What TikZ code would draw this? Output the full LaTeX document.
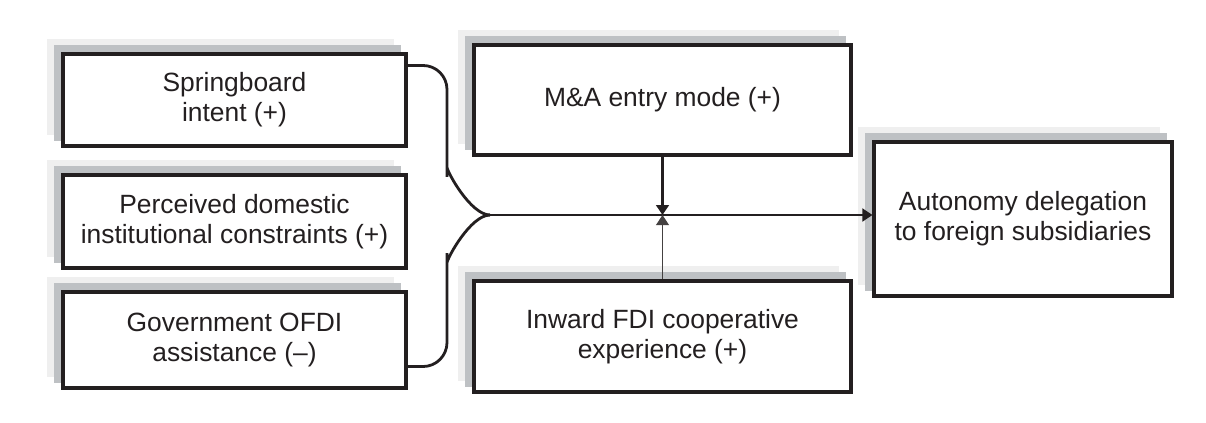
\documentclass[tikz,border=0pt]{standalone}
\usepackage{fontspec}
\setmainfont{Liberation Sans}
\usepackage{tikz}
\usetikzlibrary{arrows.meta,backgrounds,calc}
\definecolor{Ink}{HTML}{231F20}
\definecolor{ShadeDark}{HTML}{BEC1C4}
\definecolor{ShadeLight}{HTML}{EFEFEF}
\tikzset{
  factorBox/.style={rectangle,draw=Ink,line width=2.3pt,fill=white,text=Ink,
    font=\fontsize{19.8}{22.5}\selectfont,align=center,inner sep=0pt},
  link/.style={draw=Ink,line width=2.1pt},
  effectArrow/.style={link,-{Triangle[length=7.5pt,width=9.5pt]}},
  moderArrow/.style={draw=Ink!85,line width=1.3pt,-{Triangle[length=7.5pt,width=9.5pt]}}
}

\begin{document}
\begin{tikzpicture}[x=0.75pt,y=-0.75pt]
  \useasboundingbox (0,0) rectangle (1206,422);

  % Antecedents on the left
  \node[factorBox,minimum width=343*0.75pt,minimum height=92*0.75pt] (spring) at (234.5,100) {Springboard\\intent (+)};
  \node[factorBox,minimum width=343*0.75pt,minimum height=93*0.75pt] (percv) at (234.5,221.5) {Perceived domestic\\institutional constraints (+)};
  \node[factorBox,minimum width=343*0.75pt,minimum height=96*0.75pt] (govt) at (234.5,340) {Government OFDI\\assistance (--)};

  % Moderators and outcome
  \node[factorBox,minimum width=377*0.75pt,minimum height=110*0.75pt] (mna) at (662.5,100) {M\&A entry mode (+)};
  \node[factorBox,minimum width=377*0.75pt,minimum height=111*0.75pt] (inward) at (662.5,336.5) {Inward FDI cooperative\\experience (+)};
  \node[factorBox,minimum width=298*0.75pt,minimum height=154*0.75pt] (auto) at (1023,219) {Autonomy delegation\\to foreign subsidiaries};

  % Stacked shadows behind every box
  \begin{scope}[on background layer]
    \foreach \n in {spring,percv,govt,mna,inward,auto} {
      \fill[ShadeLight] ($(\n.north west)+(-14,-13)$) rectangle ($(\n.south east)+(-14,-13)$);
      \fill[ShadeDark] ($(\n.north west)+(-7,-7)$) rectangle ($(\n.south east)+(-7,-7)$);
    }
  \end{scope}

  % Brace joining the antecedents
  \coordinate (brace) at (447,215);
  \coordinate (merge) at (490,215);
  \draw[link,rounded corners=18] ($(spring.north east)+(0,13)$) -| ($(brace)+(0,-24)$) to[out=90,in=180] (merge);
  \draw[link,rounded corners=18] ($(govt.south east)+(0,-23)$) -| ($(brace)+(0,24)$) to[out=-90,in=180] (merge);
  \draw[effectArrow] (merge) -- (merge -| auto.west);

  % Moderating effects
  \draw[effectArrow] (mna.south) -- (mna.south |- merge);
  \draw[moderArrow] (inward.north) -- (inward.north |- merge);
\end{tikzpicture}
\end{document}
